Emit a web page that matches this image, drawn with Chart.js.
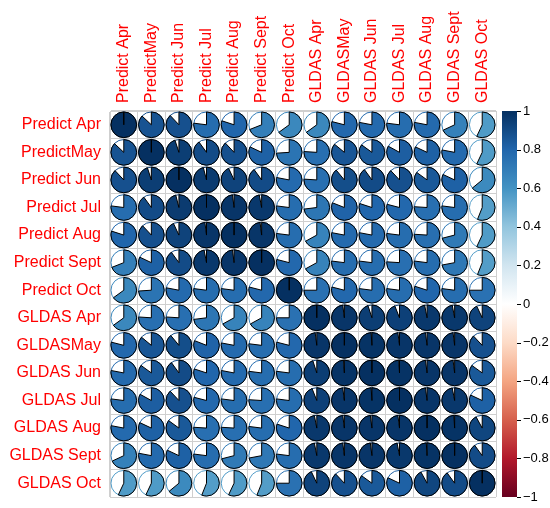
<!DOCTYPE html>
<html><head><meta charset="utf-8">
<script src="https://cdn.jsdelivr.net/npm/chart.js@4"></script>
<style>html,body{margin:0;padding:0;background:#fff}#wrap{width:550px;height:508px}</style>
</head><body><div id="wrap"><canvas id="c"></canvas></div>
<script>
const variables = ['Predict Apr','PredictMay','Predict Jun','Predict Jul','Predict Aug','Predict Sept','Predict Oct',
  'GLDAS Apr','GLDASMay','GLDAS Jun','GLDAS Jul','GLDAS Aug','GLDAS Sept','GLDAS Oct'];

const rowPredictApr  = [1, 0.87, 0.88, 0.77, 0.80, 0.69, 0.65, 0.65, 0.79, 0.78, 0.77, 0.78, 0.68, 0.57];
const rowPredictMay  = [0.87, 1, 0.95, 0.90, 0.88, 0.82, 0.74, 0.76, 0.86, 0.85, 0.83, 0.82, 0.78, 0.57];
const rowPredictJun  = [0.88, 0.95, 1, 0.96, 0.93, 0.90, 0.78, 0.76, 0.89, 0.90, 0.88, 0.85, 0.82, 0.64];
const rowPredictJul  = [0.77, 0.90, 0.96, 1, 0.98, 0.97, 0.77, 0.73, 0.81, 0.80, 0.79, 0.76, 0.77, 0.56];
const rowPredictAug  = [0.80, 0.88, 0.93, 0.98, 1, 0.98, 0.77, 0.67, 0.78, 0.78, 0.77, 0.76, 0.71, 0.57];
const rowPredictSept = [0.69, 0.82, 0.90, 0.97, 0.98, 1, 0.79, 0.67, 0.77, 0.77, 0.76, 0.77, 0.72, 0.56];
const rowPredictOct  = [0.65, 0.74, 0.78, 0.77, 0.77, 0.79, 1, 0.75, 0.79, 0.77, 0.77, 0.80, 0.77, 0.75];
const rowGldasApr    = [0.65, 0.76, 0.76, 0.73, 0.67, 0.67, 0.75, 1, 0.98, 0.95, 0.94, 0.97, 0.97, 0.93];
const rowGldasMay    = [0.79, 0.86, 0.89, 0.81, 0.78, 0.77, 0.79, 0.98, 1, 0.99, 0.98, 0.98, 0.98, 0.88];
const rowGldasJun    = [0.78, 0.85, 0.90, 0.80, 0.78, 0.77, 0.77, 0.95, 0.99, 1, 0.99, 0.98, 0.98, 0.85];
const rowGldasJul    = [0.77, 0.83, 0.88, 0.79, 0.77, 0.76, 0.77, 0.94, 0.98, 0.99, 1, 0.98, 0.97, 0.82];
const rowGldasAug    = [0.78, 0.82, 0.85, 0.76, 0.76, 0.77, 0.80, 0.97, 0.98, 0.98, 0.98, 1, 0.99, 0.92];
const rowGldasSept   = [0.68, 0.78, 0.82, 0.77, 0.71, 0.72, 0.77, 0.97, 0.98, 0.98, 0.97, 0.99, 1, 0.90];
const rowGldasOct    = [0.57, 0.57, 0.64, 0.56, 0.57, 0.56, 0.75, 0.93, 0.88, 0.85, 0.82, 0.92, 0.90, 1];

const cbTickValues = [-1, -0.8, -0.6, -0.4, -0.2, 0, 0.2, 0.4, 0.6, 0.8, 1];
const cbTickLabels = ['\u22121','\u22120.8','\u22120.6','\u22120.4','\u22120.2','0','0.2','0.4','0.6','0.8','1'];
const paletteStops = ['#67001F','#B2182B','#D6604D','#F4A582','#FDDBC7','#FFFFFF','#D1E5F0','#92C5DE','#4393C3','#2166AC','#053061'];

const rows = [rowPredictApr,rowPredictMay,rowPredictJun,rowPredictJul,rowPredictAug,rowPredictSept,rowPredictOct,
  rowGldasApr,rowGldasMay,rowGldasJun,rowGldasJul,rowGldasAug,rowGldasSept,rowGldasOct];

function hex2rgb(h){return [parseInt(h.slice(1,3),16),parseInt(h.slice(3,5),16),parseInt(h.slice(5,7),16)];}
function colorFor(v){
  const t = (v + 1) / 2 * (paletteStops.length - 1);
  const i = Math.min(Math.floor(t), paletteStops.length - 2);
  const f = t - i;
  const a = hex2rgb(paletteStops[i]), b = hex2rgb(paletteStops[i+1]);
  const c = a.map((x,k)=>Math.round(x + (b[k]-x)*f));
  return 'rgb(' + c.join(',') + ')';
}

const points = [];
rows.forEach((row, ri) => row.forEach((v, ci) => points.push({x: variables[ci], y: variables[ri], v: v})));

const FONT = "'Liberation Sans', Arial, sans-serif";
const LABEL_SIZE = 16;

const piePlugin = {
  id: 'pies',
  afterDatasetsDraw(chart) {
    const meta = chart.getDatasetMeta(0);
    const xs = chart.scales.x, ys = chart.scales.y;
    const cw = Math.abs(xs.getPixelForValue(1) - xs.getPixelForValue(0));
    const ch = Math.abs(ys.getPixelForValue(1) - ys.getPixelForValue(0));
    const R = Math.min(cw, ch) * 0.465;
    const ctx = chart.ctx;
    const data = chart.data.datasets[0].data;
    meta.data.forEach((pt, i) => {
      const v = data[i].v;
      const col = colorFor(v);
      ctx.save();
      ctx.beginPath(); ctx.arc(pt.x, pt.y, R, 0, 2*Math.PI);
      ctx.fillStyle = '#fff'; ctx.fill();
      ctx.strokeStyle = col; ctx.lineWidth = 1; ctx.stroke();
      ctx.beginPath(); ctx.moveTo(pt.x, pt.y);
      const a0 = -Math.PI/2, a1 = a0 + 2*Math.PI*Math.abs(v) * (v < 0 ? -1 : 1);
      ctx.arc(pt.x, pt.y, R, a0, a1, v < 0); ctx.closePath();
      ctx.fillStyle = col; ctx.fill();
      ctx.strokeStyle = '#000'; ctx.lineWidth = 1; ctx.stroke();
      ctx.restore();
    });
  }
};

const colorbarPlugin = {
  id: 'colorbar',
  afterDraw(chart) {
    const cb = chart.scales.cb;
    const ctx = chart.ctx;
    const x0 = cb.left + 6, x1 = cb.left + 21;
    const yTop = cb.getPixelForValue(1), yBot = cb.getPixelForValue(-1);
    const g = ctx.createLinearGradient(0, yBot, 0, yTop);
    paletteStops.forEach((c, i) => g.addColorStop(i/(paletteStops.length-1), c));
    ctx.save();
    ctx.fillStyle = g;
    ctx.fillRect(x0, yTop, x1 - x0, yBot - yTop);
    ctx.strokeStyle = '#000'; ctx.lineWidth = 1;
    cbTickValues.forEach(v => {
      const y = Math.round(cb.getPixelForValue(v)) + 0.5;
      ctx.beginPath(); ctx.moveTo(x1, y); ctx.lineTo(x1 + 4, y); ctx.stroke();
    });
    ctx.restore();
  }
};

const gridColor = '#cfcfcf';
new Chart(document.getElementById('c'), {
  type: 'scatter',
  data: { datasets: [{ data: points, pointRadius: 0, pointHoverRadius: 0, showLine: false }] },
  options: {
    responsive: true, maintainAspectRatio: false, animation: false, events: [],
    layout: { padding: { top: 0, left: 0, right: 0, bottom: 11 } },
    plugins: { legend: { display: false }, tooltip: { enabled: false } },
    scales: {
      x: {
        type: 'category', labels: variables, position: 'top', offset: true,
        afterFit: (s) => { s.height = 111; },
        grid: { offset: true, color: gridColor, drawTicks: true, tickLength: 8, tickColor: 'rgba(0,0,0,0)' },
        border: { color: gridColor },
        ticks: { color: '#ff0000', font: { size: LABEL_SIZE, family: FONT, lineHeight: 1.2 }, minRotation: 90, maxRotation: 90,
          padding: 0, labelOffset: LABEL_SIZE * 1.2, autoSkip: false }
      },
      y: {
        type: 'category', labels: variables, position: 'left', offset: true,
        afterFit: (s) => { s.width = 110; },
        grid: { offset: true, color: gridColor, drawTicks: true, tickLength: 9, tickColor: 'rgba(0,0,0,0)' },
        border: { color: gridColor },
        ticks: { color: '#ff0000', font: { size: LABEL_SIZE, family: FONT }, padding: 0, autoSkip: false }
      },
      cb: {
        type: 'linear', position: 'right', min: -1, max: 1,
        afterFit: (s) => { s.width = 54; },
        afterBuildTicks: (s) => { s.ticks = cbTickValues.map(v => ({ value: v })); },
        grid: { drawOnChartArea: false, drawTicks: true, tickLength: 27, tickColor: 'rgba(0,0,0,0)' },
        border: { display: false },
        ticks: { color: '#000', font: { size: 13, family: FONT }, padding: 0,
          callback: (val) => cbTickLabels[cbTickValues.indexOf(val)] }
      }
    }
  },
  plugins: [piePlugin, colorbarPlugin]
});
</script>
</body></html>
